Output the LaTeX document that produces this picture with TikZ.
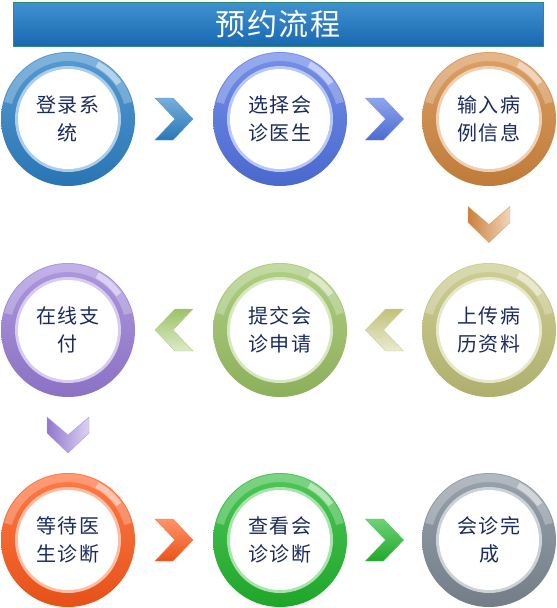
\documentclass[tikz,border=0pt]{standalone}
\usepackage{fontspec}
\usetikzlibrary{calc}
\newfontfamily\cjk[LetterSpace=8]{Noto Sans CJK SC}
\newfontfamily\cjktitle[LetterSpace=6]{Noto Sans CJK SC}

\definecolor{blueA}{HTML}{2D82C7}
\definecolor{blueB}{HTML}{5274E4}
\definecolor{orangeA}{HTML}{D4883F}
\definecolor{purpleA}{HTML}{9A7ED8}
\definecolor{greenA}{HTML}{9CC365}
\definecolor{khakiA}{HTML}{C2C27A}
\definecolor{redA}{HTML}{FF5A1A}
\definecolor{greenB}{HTML}{22B82E}
\definecolor{grayA}{HTML}{7F8B97}
\definecolor{navytext}{HTML}{1C2B5E}
\definecolor{titletop}{HTML}{3F92D2}
\definecolor{titlemid}{HTML}{4A9CD8}
\definecolor{titlebot}{HTML}{1868B0}
\definecolor{titleedge}{HTML}{2F8C6C}

\tikzset{
  x=1pt, y=-1pt,
  ring/.style={
    circle, minimum size=134pt, inner sep=0pt,
    top color=#1!80!white, middle color=#1, bottom color=#1!90!black,
    text=navytext, align=center,
    font=\cjk\fontsize{20}{28}\selectfont,
    path picture={
      \coordinate (pc) at (path picture bounding box.center);
      % glossy band along the upper rim
      \fill[white, opacity=0.25]
        ([shift={(15:66pt)}]pc) arc[start angle=15, end angle=165, radius=66pt]
        -- ([shift={(165:58pt)}]pc) arc[start angle=165, end angle=15, radius=58pt] -- cycle;
      % bright spot at the upper right
      \fill[white, opacity=0.45]
        ([shift={(35:65pt)}]pc) arc[start angle=35, end angle=62, radius=65pt]
        -- ([shift={(62:59pt)}]pc) arc[start angle=62, end angle=35, radius=59pt] -- cycle;
      % pale inner edge and white face
      \fill[#1!40!white] (pc) circle[radius=53pt];
      \fill[white] (pc) circle[radius=50pt];
    }
  },
  pics/chev right/.style={code={
    \shade[top color=#1!65!white, bottom color=#1!92!black, draw=#1!80!white, line width=0.4pt]
      (-19,-21) -- (-1,-21) -- (19,0) -- (-1,21) -- (-19,21) -- (1,0) -- cycle;
  }},
  pics/chev left/.style={code={
    \shade[top color=#1, bottom color=#1!35!white, draw=#1!80!white, line width=0.4pt]
      (19,-21) -- (1,-21) -- (-19,0) -- (1,21) -- (19,21) -- (-1,0) -- cycle;
  }},
  pics/chev down/.style={code={
    \shade[left color=#1!95!black, right color=#1!35!white, draw=#1!80!white, line width=0.4pt]
      (-21,-18) -- (-21,-2) -- (0,18) -- (21,-2) -- (21,-18) -- (0,0) -- cycle;
  }},
}

\begin{document}
\begin{tikzpicture}
\useasboundingbox (0,0) rectangle (557,608);

% title bar
\node[draw=titleedge, line width=0.8pt,
      top color=titletop, middle color=titlemid, bottom color=titlebot,
      minimum width=530pt, minimum height=44pt, inner sep=0pt,
      text=white, font=\cjktitle\fontsize{30}{32}\selectfont]
  (title) at (278,24) {预约流程};

% row 1
\node[ring=blueA]   (n1) at (68,119)  {登录系\\统};
\node[ring=blueB]   (n2) at (280,119) {选择会\\诊医生};
\node[ring=orangeA] (n3) at (489,119) {输入病\\例信息};
% row 2
\node[ring=khakiA]  (n4) at (489,330) {上传病\\历资料};
\node[ring=greenA]  (n5) at (280,330) {提交会\\诊申请};
\node[ring=purpleA] (n6) at (68,330)  {在线支\\付};
% row 3
\node[ring=redA]    (n7) at (68,540)  {等待医\\生诊断};
\node[ring=greenB]  (n8) at (280,540) {查看会\\诊诊断};
\node[ring=grayA]   (n9) at (489,540) {会诊完\\成};

% step markers
\pic at ($(n1)!0.5!(n2)$) {chev right=blueA};
\pic at ($(n2)!0.5!(n3)$) {chev right=blueB};
\pic at ($(n3)!0.5!(n4)$) {chev down=orangeA};
\pic at ($(n4)!0.5!(n5)$) {chev left=khakiA};
\pic at ($(n5)!0.5!(n6)$) {chev left=greenA};
\pic at ($(n6)!0.5!(n7)$) {chev down=purpleA};
\pic at ($(n7)!0.5!(n8)$) {chev right=redA};
\pic at ($(n8)!0.5!(n9)$) {chev right=greenB};
\end{tikzpicture}
\end{document}
